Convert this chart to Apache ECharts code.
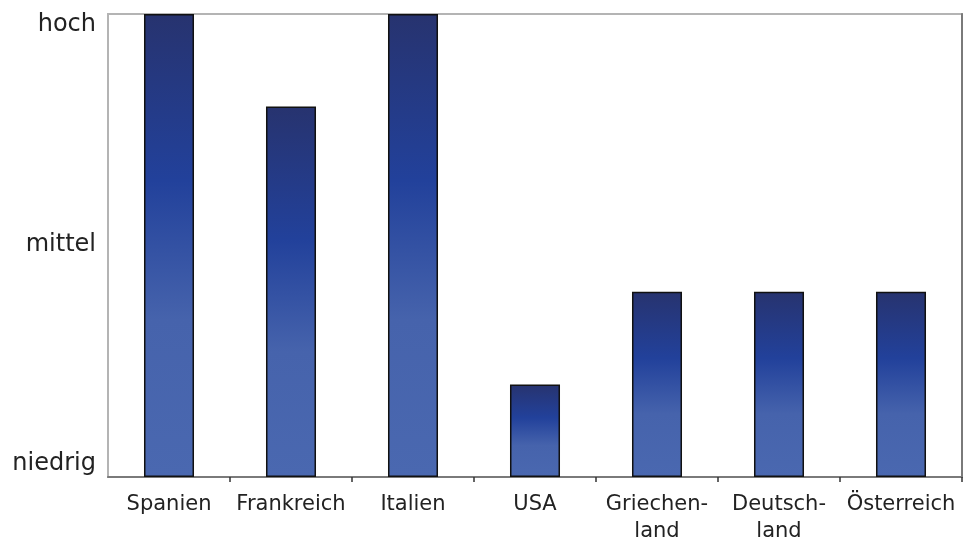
<!DOCTYPE html>
<html>
<head>
<meta charset="utf-8">
<script src="https://cdn.jsdelivr.net/npm/echarts@6/dist/echarts.min.js"></script>
<style>
  html, body { margin: 0; padding: 0; background: #fff; }
  #chart { width: 977px; height: 541px; }
</style>
</head>
<body>
<div id="chart"></div>
<script>
// Länder und ihre Einstufung (0 = niedrig, 1 = mittel, 2 = hoch)
const categories = ['Spanien', 'Frankreich', 'Italien', 'USA', 'Griechen-\nland', 'Deutsch-\nland', 'Österreich'];
const values = [2, 1.6, 2, 0.4, 0.8, 0.8, 0.8];
const levelLabels = ['niedrig', 'mittel', 'hoch'];
const levelStyles = ['lo', 'mid', 'hi'];

const chart = echarts.init(document.getElementById('chart'), null, { renderer: 'canvas' });

const barGradient = new echarts.graphic.LinearGradient(0, 0, 0, 1, [
  { offset: 0, color: '#27336f' },
  { offset: 0.36, color: '#22419b' },
  { offset: 0.66, color: '#4663ac' },
  { offset: 1, color: '#4a68b0' }
]);

const font = 'DejaVu Sans';
const yFont = { fontFamily: font, fontSize: 24, color: '#222' };

chart.setOption({
  animation: false,
  backgroundColor: '#ffffff',
  grid: {
    left: 108, right: 15, top: 14, bottom: 64,
    outerBoundsMode: 'none',
    containLabel: false,
    show: true, borderColor: '#b4b4b4', borderWidth: 2, backgroundColor: '#ffffff'
  },
  xAxis: [{
    type: 'category',
    data: categories,
    axisLine: { show: true, lineStyle: { color: '#7a7a7a', width: 2 } },
    axisTick: {
      show: true, length: 5, lineStyle: { color: '#333', width: 1.5 },
      interval: (i) => i > 0 && i < categories.length
    },
    axisLabel: {
      interval: 0, margin: 14, color: '#222', fontFamily: font, fontSize: 21, lineHeight: 27
    }
  }],
  yAxis: [{
    type: 'value',
    min: 0, max: 2, interval: 1,
    axisLine: { show: true, lineStyle: { color: '#b4b4b4', width: 2 } },
    axisTick: { show: false },
    splitLine: { show: false },
    axisLabel: {
      margin: 12, color: '#222', fontFamily: font, fontSize: 24,
      formatter: v => '{' + levelStyles[v] + '|' + levelLabels[v] + '}',
      rich: {
        lo: Object.assign({ padding: [0, 0, 26, 0] }, yFont),
        mid: Object.assign({ padding: [0, 0, 2, 0] }, yFont),
        hi: Object.assign({ padding: [22, 0, 0, 0] }, yFont)
      }
    }
  }, {
    type: 'value',
    position: 'right',
    min: 0, max: 2, interval: 1,
    axisLine: { show: true, lineStyle: { color: '#7a7a7a', width: 2 } },
    axisTick: { show: false },
    splitLine: { show: false },
    axisLabel: { show: false }
  }],
  series: [{
    type: 'bar',
    data: values,
    barWidth: '41%',
    itemStyle: {
      color: barGradient,
      borderColor: '#111',
      borderWidth: 1.5
    }
  }]
});
</script>
</body>
</html>
